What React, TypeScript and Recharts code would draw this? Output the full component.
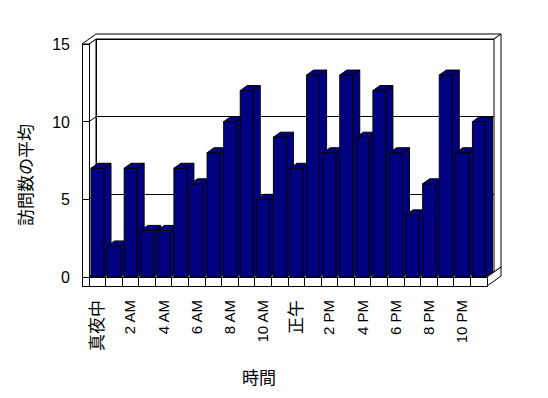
import React from "react";
import { BarChart, Bar, XAxis, YAxis, Customized } from "recharts";

const hours = [
  "真夜中", "1 AM", "2 AM", "3 AM", "4 AM", "5 AM", "6 AM", "7 AM", "8 AM", "9 AM", "10 AM", "11 AM",
  "正午", "1 PM", "2 PM", "3 PM", "4 PM", "5 PM", "6 PM", "7 PM", "8 PM", "9 PM", "10 PM", "11 PM",
];
const averages = [7, 2, 7, 3, 3, 7, 6, 8, 10, 12, 5, 9, 7, 13, 8, 13, 9, 12, 8, 4, 6, 13, 8, 10];
const yTicks = [0, 5, 10, 15];
const gridValues = [5, 10];
const Y_MAX = 15;

const data = hours.map((h, i) => ({ hour: h, avg: averages[i] }));

const W = 548;
const H = 398;
const PL = 89;
const PR = 487;
const PT = 44;
const PB = 277;
const DX = 7;
const DY = -5;
const WALL = 7;
const FLOOR = 9;
const NAVY = "#000080";
const LATIN = "'Liberation Sans', Arial, sans-serif";
const CJK = "'Noto Sans CJK JP', 'Noto Sans CJK SC', sans-serif";
const Y_AXIS_W = 40;
const X_AXIS_H = 40;

const yOf = (v: number) => PB - (v / Y_MAX) * (PB - PT);

const isCJK = (s: string) => /[\u3000-\u9fff]/.test(s);

function Walls() {
  const band = (PR - PL) / hours.length;
  const common = { stroke: "#000", strokeWidth: 1, shapeRendering: "crispEdges" as const };
  return (
    <g>
      <rect x={PL + DX} y={PT + DY} width={PR - PL} height={PB - PT} fill="#fff" {...common} />
      {gridValues.map((v) => (
        <line key={v} x1={PL + DX} y1={yOf(v) + DY} x2={PR + DX} y2={yOf(v) + DY} {...common} />
      ))}
      <polygon
        points={`${PL},${PT} ${PL + DX},${PT + DY} ${PL + DX},${PB + DY} ${PL},${PB}`}
        fill="#fff"
        stroke="#000"
      />
      {gridValues.map((v) => (
        <line key={"d" + v} x1={PL} y1={yOf(v)} x2={PL + DX} y2={yOf(v) + DY} stroke="#000" />
      ))}
      <rect x={PL - WALL} y={PT} width={WALL} height={PB - PT + FLOOR} fill="#fff" {...common} />
      {gridValues.map((v) => (
        <line key={"t" + v} x1={PL - WALL} y1={yOf(v)} x2={PL} y2={yOf(v)} {...common} />
      ))}
      <polygon
        points={`${PL - WALL},${PT} ${PL},${PT} ${PL + DX},${PT + DY} ${PR + DX},${PT + DY} ${PR + 2 * DX},${PT + 2 * DY} ${PL + DX},${PT + 2 * DY}`}
        fill="#fff"
        stroke="#000"
      />
      <polygon
        points={`${PR + DX},${PT + DY} ${PR + 2 * DX},${PT + 2 * DY} ${PR + 2 * DX},${PB + 2 * DY} ${PR + DX},${PB + DY}`}
        fill="#fff"
        stroke="#000"
      />
      <polygon
        points={`${PL},${PB} ${PR},${PB} ${PR + DX},${PB + DY} ${PL + DX},${PB + DY}`}
        fill="#fff"
        stroke="#000"
      />
      <polygon
        points={`${PR},${PB} ${PR + 2 * DX},${PB + 2 * DY} ${PR + 2 * DX},${PB + FLOOR + 2 * DY} ${PR},${PB + FLOOR}`}
        fill="#fff"
        stroke="#000"
      />
      <rect x={PL} y={PB} width={PR - PL} height={FLOOR} fill="#fff" {...common} />
      <rect x={PL - WALL} y={PB} width={PR - PL + WALL} height={FLOOR} fill="none" {...common} />
      {hours.slice(1).map((_, i) => (
        <line
          key={"f" + i}
          x1={PL + (i + 1) * band}
          y1={PB}
          x2={PL + (i + 1) * band}
          y2={PB + FLOOR}
          {...common}
        />
      ))}
      <text
        transform={`translate(${32}, ${175}) rotate(-90)`}
        textAnchor="middle"
        fontFamily={CJK}
        fontSize={17}
        fill="#000"
      >
        訪問数の平均
      </text>
      <text x={259} y={384} textAnchor="middle" fontFamily={CJK} fontSize={17} fill="#000">
        時間
      </text>
    </g>
  );
}

function Bar3D(props: any) {
  const { x, y, width, height } = props;
  if (width == null || height == null) return null;
  const top = `${x},${y} ${x + DX},${y + DY} ${x + width + DX},${y + DY} ${x + width},${y}`;
  const side = `${x + width},${y} ${x + width + DX},${y + DY} ${x + width + DX},${y + height + DY} ${x + width},${y + height}`;
  return (
    <g>
      <rect x={x} y={y} width={width} height={height} fill={NAVY} stroke="#000" strokeWidth={1} />
      <polygon points={side} fill={NAVY} stroke="#000" strokeWidth={1} />
      <polygon points={top} fill={NAVY} stroke="#000" strokeWidth={1} />
    </g>
  );
}

function XTick(props: any) {
  const { x, payload } = props;
  const label = String(payload.value);
  const cjk = isCJK(label);
  return (
    <text
      transform={`translate(${x + (cjk ? 6 : 5)}, ${300}) rotate(-90)`}
      textAnchor="end"
      fontFamily={cjk ? CJK : LATIN}
      fontSize={cjk ? 17 : 15}
      fill="#000"
    >
      {label}
    </text>
  );
}

function YTick(props: any) {
  const { y, payload } = props;
  return (
    <text x={70} y={y + 6} textAnchor="end" fontFamily={LATIN} fontSize={16} fill="#000">
      {payload.value}
    </text>
  );
}

export default function App() {
  return (
    <div style={{ position: "absolute", left: 0, top: 0, width: W, height: H, background: "#fff" }}>
      <BarChart
        width={W}
        height={H}
        data={data}
        margin={{ left: PL - Y_AXIS_W, right: W - PR, top: PT, bottom: H - PB - X_AXIS_H }}
        barSize={13}
      >
        <Customized component={Walls} />
        <XAxis
          dataKey="hour"
          interval={1}
          height={X_AXIS_H}
          axisLine={false}
          tickLine={false}
          tick={<XTick />}
        />
        <YAxis
          domain={[0, Y_MAX]}
          ticks={yTicks}
          width={Y_AXIS_W}
          axisLine={false}
          tickLine={false}
          tick={<YTick />}
        />
        <Bar dataKey="avg" shape={<Bar3D />} isAnimationActive={false} />
      </BarChart>
    </div>
  );
}
